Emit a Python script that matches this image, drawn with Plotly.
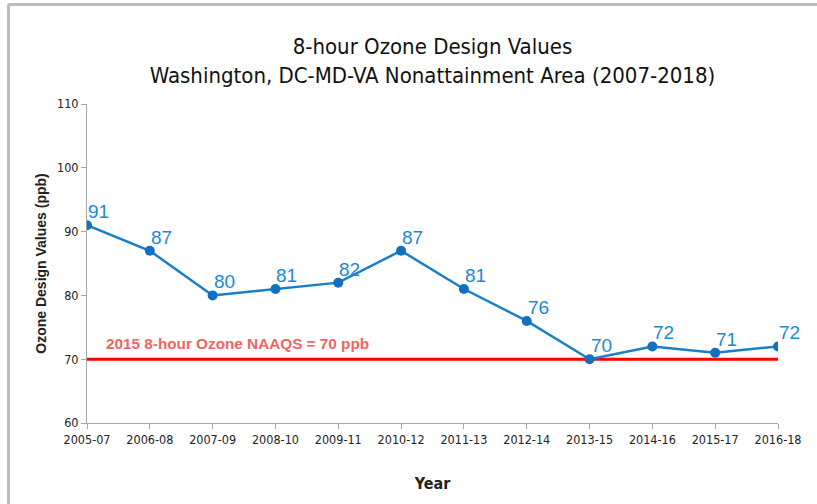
import plotly.graph_objects as go

periods = ["2005-07", "2006-08", "2007-09", "2008-10", "2009-11", "2010-12",
           "2011-13", "2012-14", "2013-15", "2014-16", "2015-17", "2016-18"]
design_values = [91, 87, 80, 81, 82, 87, 81, 76, 70, 72, 71, 72]
naaqs_value = 70
naaqs_label = "2015 8-hour Ozone NAAQS = 70 ppb"
y_ticks = [60, 70, 80, 90, 100, 110]

W, H = 817, 504
L, R, T, B = 87, 39, 104, 81
pw, ph = W - L - R, H - T - B

def px(x):
    return (x - L) / pw

def py(y):
    return (H - B - y) / ph

COND = "DejaVu Sans Condensed, Liberation Sans Narrow, Arial Narrow, sans-serif"
SANS = "Liberation Sans, Arial, sans-serif"
xs = list(range(len(periods)))

fig = go.Figure()
fig.add_trace(go.Scatter(
    x=[xs[0], xs[-1]], y=[naaqs_value, naaqs_value], mode="lines",
    line=dict(color="#ff0000", width=3), hoverinfo="skip", showlegend=False))
fig.add_trace(go.Scatter(
    x=xs, y=design_values, mode="lines+markers",
    line=dict(color="#1a7fc8", width=2.5),
    marker=dict(color="#1170bf", size=10),
    showlegend=False))

for xi, v in zip(xs, design_values):
    fig.add_annotation(x=xi, y=v, xref="x", yref="y", text=str(v), showarrow=False,
                       xanchor="left", yanchor="bottom", xshift=-1, yshift=1,
                       font=dict(family=SANS, size=19, color="#1a8ad4"))

fig.add_annotation(x=0, y=naaqs_value, xref="x", yref="y", text="<b>" + naaqs_label + "</b>",
                   showarrow=False, xanchor="left", yanchor="bottom", xshift=17, yshift=5,
                   font=dict(family=SANS, size=15.3, color="#f26464"))

fig.update_layout(
    width=W, height=H,
    margin=dict(l=L, r=R, t=T, b=B, autoexpand=False),
    paper_bgcolor="white", plot_bgcolor="white",
    title=dict(text="8-hour Ozone Design Values<br>Washington, DC-MD-VA Nonattainment Area (2007-2018)",
               x=0.5, xanchor="center", xref="paper", y=1 - 54 / H, yanchor="top",
               font=dict(family=COND, size=22, color="#111111")),
    font=dict(family=COND, color="#333333"),
    xaxis=dict(range=[0, len(periods) - 1], tickvals=xs, ticktext=periods,
               showgrid=False, zeroline=False, showline=True, linecolor="#a6a6a6", linewidth=1,
               ticks="outside", ticklen=5, tickcolor="#a6a6a6", automargin=False,
               tickfont=dict(family=COND, size=12.5, color="#222222"),
               title=dict(text="<b>Year</b>", standoff=31,
                          font=dict(family=COND, size=16, color="#222222"))),
    yaxis=dict(range=[60, 110], tickvals=y_ticks, showgrid=False, zeroline=False,
               showline=True, linecolor="#a6a6a6", linewidth=1,
               ticks="outside", ticklen=5, tickcolor="#a6a6a6", automargin=False,
               tickfont=dict(family=COND, size=12.5, color="#222222"),
               title=dict(text="<b>Ozone Design Values (ppb)</b>", standoff=7,
                          font=dict(family=SANS, size=14, color="#222222"))),
)

# frame lines (top and left) as in the reference image
fig.add_shape(type="line", xref="paper", yref="paper",
              x0=px(8), x1=px(W), y0=py(4.5), y1=py(4.5),
              line=dict(color="#bdbdbd", width=3))
fig.add_shape(type="line", xref="paper", yref="paper",
              x0=px(8.5), x1=px(8.5), y0=py(4.5), y1=py(H),
              line=dict(color="#bdbdbd", width=3))

fig.write_html("out.html", config={"displayModeBar": False},
               post_script="document.body.style.margin='0';")
